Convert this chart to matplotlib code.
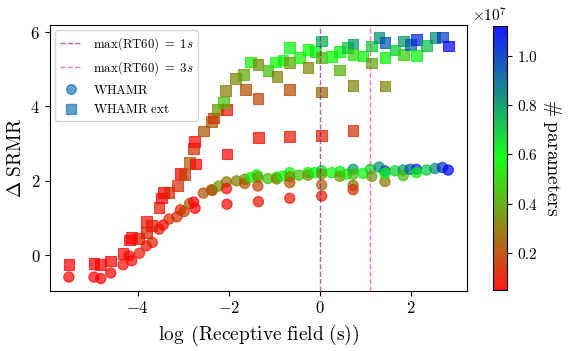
import matplotlib
matplotlib.use("Agg")
import matplotlib.pyplot as plt
import numpy as np
from matplotlib.colors import LinearSegmentedColormap, Normalize
from matplotlib.cm import ScalarMappable
from matplotlib.lines import Line2D

plt.rcParams["font.family"] = "serif"
plt.rcParams["font.serif"] = ["cmr10"]
plt.rcParams["mathtext.fontset"] = "cm"
plt.rcParams["axes.formatter.use_mathtext"] = True
plt.rcParams["axes.unicode_minus"] = True

# WHAMR (circles): log receptive field, delta SRMR, # parameters (x1e7)
whamr_x = [-5.51, -4.96, -4.81, -4.59, -4.32, -4.19, -4.13, -3.96, -3.81, -3.68,
           -3.53, -3.44, -3.31, -3.14, -3.06, -2.98, -2.86, -2.77, -2.74, -2.56,
           -2.38, -2.36, -2.22, -2.05, -2.05, -2.04, -1.83, -1.65, -1.65, -1.52,
           -1.38, -1.36, -1.36, -1.35, -1.14, -0.95, -0.95, -0.81, -0.66, -0.66,
           -0.66, -0.66, -0.46, -0.26, -0.26, -0.11, 0.04, 0.04, 0.04, 0.04,
           0.26, 0.44, 0.44, 0.59, 0.73, 0.73, 0.73, 0.73, 0.95, 1.11,
           1.14, 1.30, 1.43, 1.43, 1.43, 1.65, 1.83, 1.83, 1.98, 2.12,
           2.12, 2.34, 2.53, 2.69, 2.82]
whamr_y = [-0.59, -0.59, -0.63, -0.48, -0.26, -0.02, -0.15, 0.05, 0.25, 0.34,
           0.70, 0.81, 0.97, 1.03, 1.22, 1.17, 1.39, 1.43, 1.26, 1.67,
           1.76, 1.74, 1.86, 1.97, 1.79, 1.37, 2.00, 2.04, 1.93, 2.09,
           2.16, 2.10, 1.86, 1.44, 2.06, 2.10, 2.05, 2.13, 2.22, 2.11,
           1.95, 1.53, 2.15, 2.22, 2.15, 2.22, 2.27, 2.18, 1.89, 1.59,
           2.22, 2.25, 2.12, 2.18, 2.31, 2.18, 1.88, 1.76, 2.20, 2.31,
           2.12, 2.37, 2.27, 1.98, 2.20, 2.27, 2.29, 2.14, 2.31, 2.31,
           2.22, 2.29, 2.33, 2.36, 2.29]
whamr_p = [0.05, 0.05, 0.05, 0.06, 0.07, 0.05, 0.06, 0.10, 0.09, 0.12,
           0.10, 0.05, 0.13, 0.14, 0.12, 0.18, 0.25, 0.05, 0.05, 0.22,
           0.20, 0.24, 0.36, 0.28, 0.08, 0.06, 0.32, 0.35, 0.22, 0.55,
           0.58, 0.38, 0.18, 0.08, 0.45, 0.55, 0.33, 0.58, 0.60, 0.35,
           0.22, 0.10, 0.45, 0.58, 0.35, 0.60, 0.68, 0.38, 0.25, 0.12,
           0.58, 0.60, 0.36, 0.55, 0.80, 0.45, 0.28, 0.15, 0.60, 0.65,
           0.38, 0.82, 0.95, 0.30, 0.60, 0.68, 0.80, 0.45, 0.92, 1.05,
           0.60, 0.70, 0.82, 1.00, 1.12]

# WHAMR ext (squares)
ext_x = [-5.51, -4.96, -4.81, -4.59, -4.32, -4.18, -4.13, -3.99, -3.80, -3.80,
         -3.70, -3.53, -3.47, -3.44, -3.31, -3.13, -3.06, -2.98, -2.86, -2.73,
         -2.78, -2.75, -2.56, -2.38, -2.34, -2.25, -2.05, -2.11, -2.07, -2.04,
         -1.85, -1.67, -1.63, -1.52, -1.36, -1.36, -1.35, -1.14, -0.97, -0.94,
         -0.81, -0.66, -0.66, -0.66, -0.66, -0.44, -0.26, -0.26, -0.09, 0.04,
         0.04, 0.04, 0.04, 0.26, 0.44, 0.44, 0.60, 0.73, 0.73, 0.73,
         0.73, 0.95, 1.14, 1.14, 1.30, 1.43, 1.43, 1.43, 1.65, 1.83,
         1.83, 1.99, 2.12, 2.12, 2.34, 2.53, 2.69, 2.82]
ext_y = [-0.25, -0.23, -0.25, -0.16, 0.05, 0.41, 0.48, 0.45, 0.91, 0.61,
         0.79, 1.28, 1.54, 1.69, 1.69, 1.88, 2.20, 2.18, 2.49, 2.45,
         2.87, 3.05, 3.34, 3.60, 3.69, 3.92, 3.92, 4.10, 4.43, 2.72,
         4.75, 4.86, 4.46, 5.20, 5.13, 4.21, 3.17, 4.97, 5.20, 4.80,
         5.25, 5.58, 5.18, 4.46, 3.19, 5.31, 5.54, 5.05, 5.47, 5.76,
         5.31, 4.39, 3.22, 5.34, 5.47, 4.98, 5.58, 5.68, 5.40, 4.57,
         3.36, 5.36, 5.63, 5.17, 5.85, 5.73, 5.31, 4.55, 5.52, 5.76,
         5.40, 5.67, 5.81, 5.38, 5.65, 5.85, 5.87, 5.63]
ext_p = [0.05, 0.05, 0.05, 0.06, 0.07, 0.05, 0.06, 0.10, 0.09, 0.12,
         0.10, 0.10, 0.05, 0.05, 0.13, 0.14, 0.05, 0.18, 0.25, 0.05,
         0.15, 0.06, 0.22, 0.24, 0.15, 0.36, 0.08, 0.45, 0.30, 0.06,
         0.33, 0.40, 0.22, 0.55, 0.35, 0.18, 0.08, 0.45, 0.58, 0.33,
         0.60, 0.60, 0.38, 0.20, 0.10, 0.55, 0.58, 0.33, 0.62, 0.75,
         0.42, 0.27, 0.12, 0.58, 0.60, 0.42, 0.70, 0.80, 0.50, 0.33,
         0.15, 0.60, 0.68, 0.40, 0.82, 0.95, 0.60, 0.33, 0.68, 0.80,
         0.48, 0.92, 1.05, 0.60, 0.72, 0.82, 1.00, 1.12]

rt60_lines = [0.0, np.log(3.0)]
rt60_labels = [r"$\max(\mathrm{RT60})\;=\;1s$", r"$\max(\mathrm{RT60})\;=\;3s$"]
rt60_colors = ["purple", "deeppink"]

cmap = LinearSegmentedColormap.from_list("rgb", ["red", "lime", "blue"])
wp = np.array(whamr_p) * 1e7
ep = np.array(ext_p) * 1e7
norm = Normalize(vmin=min(wp.min(), ep.min()), vmax=max(wp.max(), ep.max()))

fig = plt.figure(figsize=(5.74, 3.51), dpi=100)
ax = fig.add_axes([0.087, 0.172, 0.727, 0.757])
cax = fig.add_axes([0.859, 0.174, 0.024, 0.752])

ax.scatter(whamr_x, whamr_y, c=wp, cmap=cmap, norm=norm,
           marker="o", s=55, alpha=0.7, linewidths=0.8)
ax.scatter(ext_x, ext_y, c=ep, cmap=cmap, norm=norm,
           marker="s", s=60, alpha=0.7, linewidths=0.8)

for xv, col in zip(rt60_lines, rt60_colors):
    ax.axvline(xv, color=col, ls="--", lw=1.0, alpha=0.6)

handles = [Line2D([], [], color=c, ls="--", lw=1.0, alpha=0.6) for c in rt60_colors]
handles += [
    Line2D([], [], marker="o", ls="", color="C0", alpha=0.7, markersize=7),
    Line2D([], [], marker="s", ls="", color="C0", alpha=0.7, markersize=7),
]
labels = rt60_labels + [r"$\mathrm{WHAMR}$", r"$\mathrm{WHAMR\ ext}$"]
ax.legend(handles, labels, loc="upper left", fontsize=9.3, handlelength=1.7,
          borderaxespad=0.4)

ax.set_xlabel(r"$\log\;\left(\mathrm{Receptive\ field\ (s)}\right)$", fontsize=14)
ax.set_ylabel(r"$\Delta\ \mathrm{SRMR}$", fontsize=14)
ax.tick_params(labelsize=12)

cb = fig.colorbar(ScalarMappable(norm=norm, cmap=cmap), cax=cax, alpha=0.9)
cb.set_label(r"$\#\ \mathrm{parameters}$", rotation=270, labelpad=18, fontsize=14)
cb.ax.tick_params(labelsize=11)
cb.ax.yaxis.get_offset_text().set_fontsize(11)

fig.savefig("out.png", dpi=100)
